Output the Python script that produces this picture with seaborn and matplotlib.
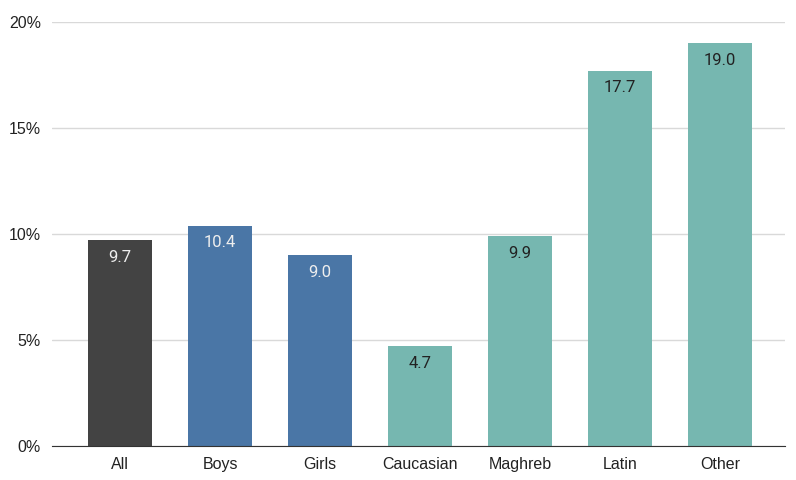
import pandas as pd
import seaborn as sns
import matplotlib.pyplot as plt
from matplotlib.ticker import FuncFormatter

# data
categories = ['All', 'Boys', 'Girls', 'Caucasian', 'Maghreb', 'Latin', 'Other']
values = [9.7, 10.4, 9.0, 4.7, 9.9, 17.7, 19.0]
bar_colors = ['#434343', '#4a76a6', '#4a76a6', '#76b7b0', '#76b7b0', '#76b7b0', '#76b7b0']
label_colors = ['#eeeeee', '#eeeeee', '#eeeeee', '#222222', '#222222', '#222222', '#222222']

df = pd.DataFrame({'group': categories, 'pct': values})

sns.set_style('white')
plt.rcParams['font.family'] = ['Liberation Sans', 'DejaVu Sans']

fig = plt.figure(figsize=(7.96, 4.8), dpi=100)
ax = fig.add_axes([52 / 796, 34 / 480, 733 / 796, 424 / 480])

sns.barplot(data=df, x='group', y='pct', hue='group', palette=bar_colors,
            width=0.64, legend=False, ax=ax, saturation=1, zorder=3,
            edgecolor='none')

for i, v in enumerate(values):
    ax.text(i, v - 0.8, f'{v:.1f}', ha='center', va='center', fontsize=12,
            color=label_colors[i], family=['Roboto', 'DejaVu Sans'], zorder=4)

ax.set_ylim(0, 20)
ax.set_xlim(-0.68, 6.65)
ax.set_yticks([0, 5, 10, 15, 20])
ax.yaxis.set_major_formatter(FuncFormatter(lambda v, p: f'{v:.0f}%'))
ax.grid(axis='y', color='#d9d9d9', linewidth=1, zorder=0)
ax.set_xlabel('')
ax.set_ylabel('')
for s in ['top', 'right', 'left']:
    ax.spines[s].set_visible(False)
ax.spines['bottom'].set_color('#333333')
ax.spines['bottom'].set_zorder(5)
ax.tick_params(axis='both', length=0, labelsize=11.5, labelcolor='#222222')
ax.tick_params(axis='y', pad=8)
ax.tick_params(axis='x', pad=8)

fig.savefig('out.png', dpi=100)
